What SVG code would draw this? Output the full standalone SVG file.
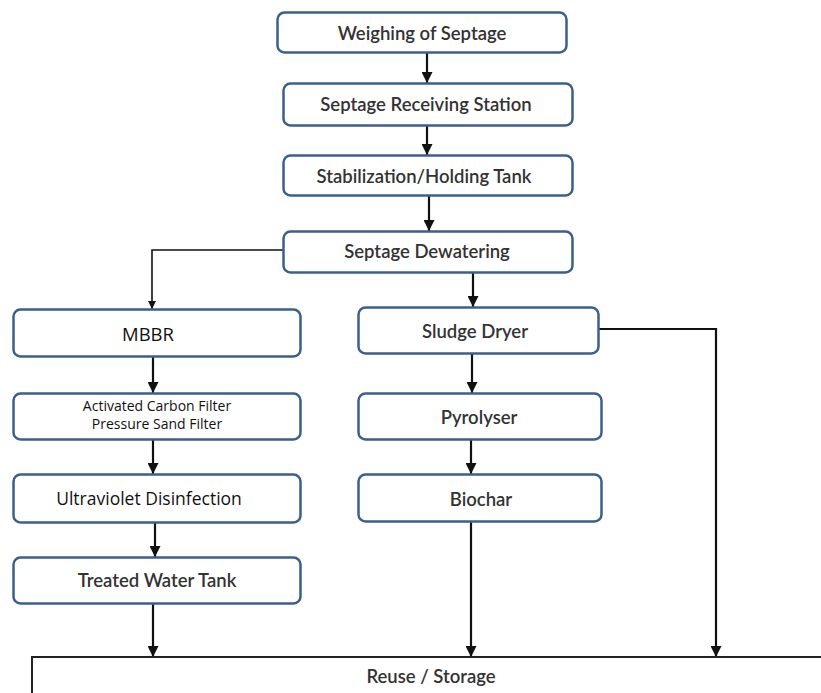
<svg xmlns="http://www.w3.org/2000/svg" width="821" height="693" viewBox="0 0 821 693">
  <style>
    .box { fill: #ffffff; stroke: #3d5f8c; stroke-width: 2.5; }
    .t1 { font-family: Lato, "Liberation Sans", sans-serif; font-size: 18.5px; font-weight: 600; fill: #333333; text-anchor: middle; dominant-baseline: central; }
    .t2 { font-family: "Open Sans", "Liberation Sans", sans-serif; font-size: 17.5px; fill: #111111; text-anchor: middle; dominant-baseline: central; }
    .t3 { font-family: "Open Sans", "Liberation Sans", sans-serif; font-size: 14px; fill: #111111; text-anchor: middle; dominant-baseline: central; }
    .wire { fill: none; stroke: #111111; stroke-width: 2.2; }
    .thin { fill: none; stroke: #111111; stroke-width: 1.6; }
  </style>
  <defs>
    <marker id="head" viewBox="0 0 10 10" refX="10" refY="5" markerWidth="5" markerHeight="5" markerUnits="strokeWidth" orient="auto">
      <path d="M0,0 L10,5 L0,10 Z" fill="#111111"/>
    </marker>
  </defs>
  <rect width="821" height="693" fill="#ffffff"/>

  <!-- connectors -->
  <g id="connectors">
    <line class="wire" x1="427" y1="53" x2="427" y2="83" marker-end="url(#head)"/>
    <line class="wire" x1="427" y1="126" x2="427" y2="155" marker-end="url(#head)"/>
    <line class="wire" x1="429" y1="196" x2="429" y2="231" marker-end="url(#head)"/>
    <polyline class="thin" points="283,250 152,250 152,309" marker-end="url(#head)"/>
    <line class="wire" x1="473" y1="273" x2="473" y2="307" marker-end="url(#head)"/>
    <polyline class="wire" points="598,329 716,329 716,657" marker-end="url(#head)"/>
    <line class="wire" x1="472" y1="354" x2="472" y2="393" marker-end="url(#head)"/>
    <line class="wire" x1="471" y1="440" x2="471" y2="474" marker-end="url(#head)"/>
    <line class="wire" x1="471" y1="522" x2="471" y2="657" marker-end="url(#head)"/>
    <line class="wire" x1="153" y1="357" x2="153" y2="393" marker-end="url(#head)"/>
    <line class="wire" x1="153" y1="440" x2="153" y2="474" marker-end="url(#head)"/>
    <line class="wire" x1="155" y1="523" x2="155" y2="557" marker-end="url(#head)"/>
    <line class="wire" x1="153" y1="604" x2="153" y2="657" marker-end="url(#head)"/>
  </g>

  <g id="weighing">
    <rect class="box" x="277.5" y="12.5" width="289" height="40" rx="7"/>
    <text class="t1" x="422" y="33">Weighing of Septage</text>
  </g>
  <g id="receiving">
    <rect class="box" x="283.5" y="83.5" width="289" height="42" rx="7"/>
    <text class="t1" x="426" y="104">Septage Receiving Station</text>
  </g>
  <g id="stabilization">
    <rect class="box" x="283.5" y="155.5" width="289" height="40" rx="7"/>
    <text class="t1" x="424" y="176">Stabilization/Holding Tank</text>
  </g>
  <g id="dewatering">
    <rect class="box" x="283.5" y="231.5" width="289" height="41" rx="7"/>
    <text class="t1" x="427" y="251">Septage Dewatering</text>
  </g>
  <g id="sludge-dryer">
    <rect class="box" x="358.5" y="307.5" width="240" height="46" rx="7"/>
    <text class="t1" x="475" y="331">Sludge Dryer</text>
  </g>
  <g id="pyrolyser">
    <rect class="box" x="358.5" y="393.5" width="243" height="46" rx="7"/>
    <text class="t1" x="479" y="417">Pyrolyser</text>
  </g>
  <g id="biochar">
    <rect class="box" x="358.5" y="474.5" width="243" height="47" rx="7"/>
    <text class="t1" x="481" y="499">Biochar</text>
  </g>
  <g id="mbbr">
    <rect class="box" x="13.5" y="309.5" width="287" height="47" rx="7"/>
    <text class="t2" x="148" y="333" style="font-size:18.5px">MBBR</text>
  </g>
  <g id="filters">
    <rect class="box" x="13.5" y="393.5" width="287" height="46" rx="7"/>
    <text class="t3" x="157" y="405">Activated Carbon Filter</text>
    <text class="t3" x="157" y="423">Pressure Sand Filter</text>
  </g>
  <g id="uv">
    <rect class="box" x="13.5" y="474.5" width="287" height="48" rx="7"/>
    <text class="t2" x="149" y="498">Ultraviolet Disinfection</text>
  </g>
  <g id="treated-water">
    <rect class="box" x="13.5" y="557.5" width="287" height="46" rx="7"/>
    <text class="t1" x="157" y="580">Treated Water Tank</text>
  </g>
  <g id="reuse">
    <polyline fill="#ffffff" stroke="#222222" stroke-width="2" points="32,700 32,657 830,657"/>
    <text class="t1" x="431" y="676">Reuse / Storage</text>
  </g>
</svg>
